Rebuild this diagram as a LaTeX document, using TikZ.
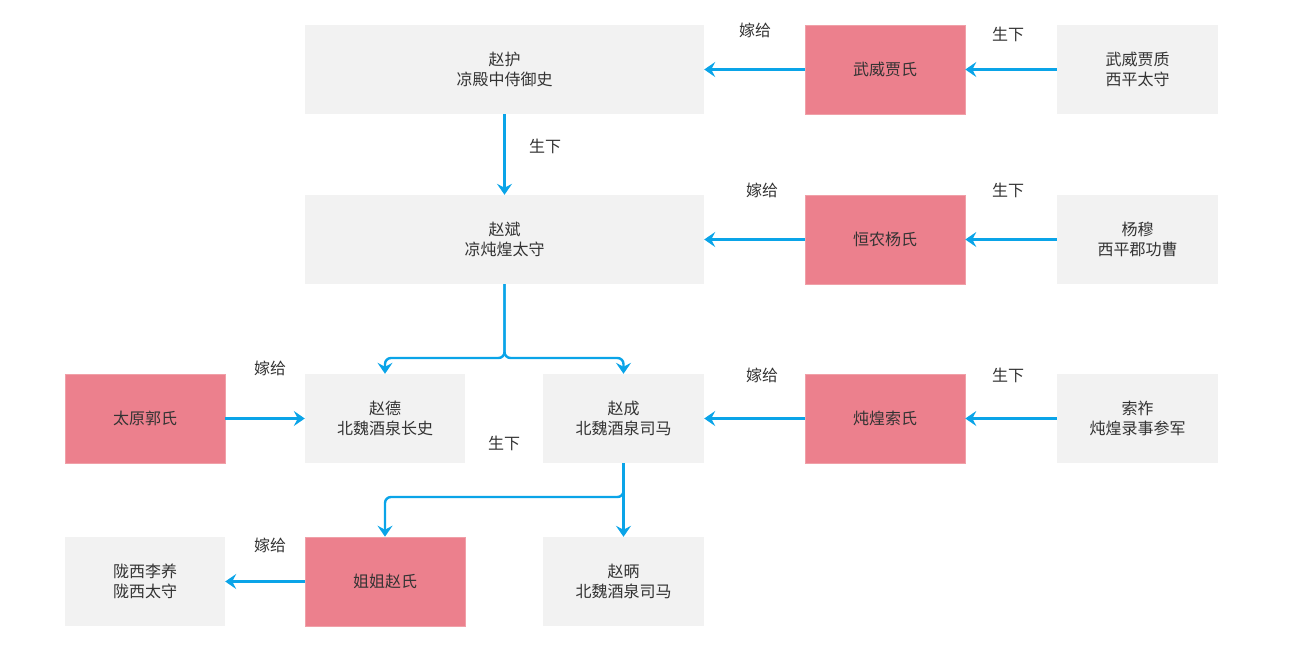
\documentclass[tikz,border=0pt]{standalone}
\usepackage{fontspec}
\setmainfont{Noto Sans CJK SC}
\usetikzlibrary{arrows.meta}
\definecolor{boxgray}{HTML}{F2F2F2}
\definecolor{boxpink}{HTML}{EC808D}
\definecolor{pinkline}{HTML}{F0A0A8}
\definecolor{arrowblue}{HTML}{0AA4E8}
\definecolor{txt}{HTML}{333333}
\tikzset{
  gbox/.style={fill=boxgray, draw=none, minimum height=89pt, inner sep=0pt, align=center, text=txt, font=\fontsize{16pt}{19.5pt}\selectfont},
  pbox/.style={gbox, fill=boxpink, draw=pinkline, line width=0.6pt},
  lbl/.style={text=txt, font=\fontsize{16pt}{19.5pt}\selectfont, inner sep=0pt},
  conn/.style={draw=arrowblue, line width=2.4pt, -{Stealth[length=11pt,width=15pt,inset=4pt]}, rounded corners=6pt},
}
\begin{document}
\begin{tikzpicture}[x=1pt,y=-1pt]
\useasboundingbox (0,0) rectangle (1294,664);
% row 1
\node[gbox, minimum width=399pt] (zh) at (504.5,69.5) {赵护\\凉殿中侍御史};
\node[pbox, minimum width=160pt] (jia) at (885,69.5) {武威贾氏};
\node[gbox, minimum width=161pt] (jz) at (1137.5,69.5) {武威贾质\\西平太守};
% row 2
\node[gbox, minimum width=399pt] (zb) at (504.5,239.5) {赵斌\\凉炖煌太守};
\node[pbox, minimum width=160pt] (yang) at (885,239.5) {恒农杨氏};
\node[gbox, minimum width=161pt] (ym) at (1137.5,239.5) {杨穆\\西平郡功曹};
% row 3
\node[pbox, minimum width=160pt] (guo) at (145,418.5) {太原郭氏};
\node[gbox, minimum width=160pt] (zd) at (385,418.5) {赵德\\北魏酒泉长史};
\node[gbox, minimum width=161pt] (zc) at (623.5,418.5) {赵成\\北魏酒泉司马};
\node[pbox, minimum width=160pt] (suo) at (885,418.5) {炖煌索氏};
\node[gbox, minimum width=161pt] (sz) at (1137.5,418.5) {索祚\\炖煌录事参军};
% row 4
\node[gbox, minimum width=160pt] (li) at (145,581.5) {陇西李养\\陇西太守};
\node[pbox, minimum width=160pt] (jj) at (385,581.5) {姐姐赵氏};
\node[gbox, minimum width=161pt] (zbing) at (623.5,581.5) {赵昞\\北魏酒泉司马};
% connectors
\draw[conn] (jia.west) -- (zh.east);
\draw[conn] (jz.west) -- (jia.east);
\draw[conn] (zh.south) -- (zb.north);
\draw[conn] (yang.west) -- (zb.east);
\draw[conn] (ym.west) -- (yang.east);
\draw[conn] (zb.south) -- (504.5,358) -- (385,358) -- (zd.north);
\draw[conn] (zb.south) -- (504.5,358) -- (623.5,358) -- (zc.north);
\draw[conn] (guo.east) -- (zd.west);
\draw[conn] (suo.west) -- (zc.east);
\draw[conn] (sz.west) -- (suo.east);
\draw[conn] (zc.south) -- (623.5,497) -- (385,497) -- (jj.north);
\draw[conn] (zc.south) -- (zbing.north);
\draw[conn] (jj.west) -- (li.east);
% labels
\node[lbl] (l1) at (755,30) {嫁给};
\node[lbl] (l2) at (1008,34) {生下};
\node[lbl] (l3) at (545,146) {生下};
\node[lbl] (l4) at (762,190) {嫁给};
\node[lbl] (l5) at (1008,190) {生下};
\node[lbl] (l6) at (270,368) {嫁给};
\node[lbl] (l7) at (762,375) {嫁给};
\node[lbl] (l8) at (1008,375) {生下};
\node[lbl] (l9) at (504,443) {生下};
\node[lbl] (l10) at (270,545) {嫁给};
\end{tikzpicture}
\end{document}
